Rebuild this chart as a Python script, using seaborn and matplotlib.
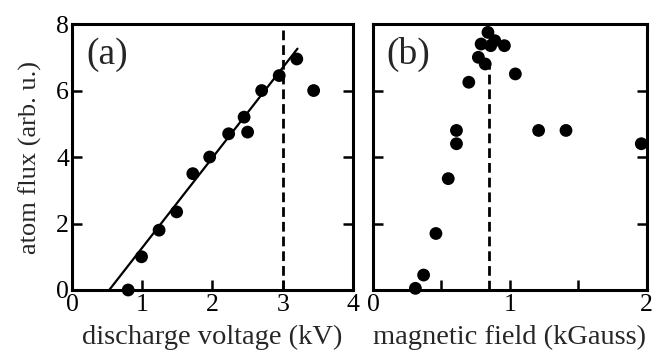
import matplotlib
matplotlib.use("Agg")
import matplotlib.pyplot as plt
import seaborn as sns
import numpy as np
import pandas as pd

# panel (a): atom flux vs discharge voltage
voltage = [0.80, 0.99, 1.24, 1.49, 1.72, 1.96, 2.23, 2.45, 2.50, 2.70, 2.95, 3.20, 3.44]
flux_a = [0.0, 1.0, 1.8, 2.35, 3.5, 4.0, 4.7, 5.2, 4.75, 6.0, 6.45, 6.95, 6.0]
fit_x = [0.53, 3.21]
fit_y = [0.0, 7.26]
dash_a = 3.0

# panel (b): atom flux vs magnetic field
field = [0.31, 0.37, 0.46, 0.55, 0.61, 0.61, 0.70, 0.77, 0.82, 0.79, 0.84,
         0.86, 0.89, 0.96, 1.04, 1.21, 1.41, 1.96]
flux_b = [0.05, 0.45, 1.7, 3.35, 4.4, 4.8, 6.25, 7.0, 6.8, 7.4, 7.75,
          7.35, 7.5, 7.35, 6.5, 4.8, 4.8, 4.4]
dash_b = 0.85
dash_b_top = 6.8

df_a = pd.DataFrame({"x": voltage, "y": flux_a})
df_b = pd.DataFrame({"x": field, "y": flux_b})

sns.set_theme(style="ticks")
plt.rcParams["font.family"] = ["Liberation Serif", "DejaVu Serif"]

fig = plt.figure(figsize=(6.52, 3.56), dpi=100)
ax_a = fig.add_axes([0.1104, 0.1854, 0.431, 0.747])
ax_b = fig.add_axes([0.572, 0.1854, 0.420, 0.747])

for ax in (ax_a, ax_b):
    ax.set_ylim(0, 8)
    ax.set_yticks([0, 2, 4, 6, 8])
    for sp in ax.spines.values():
        sp.set_linewidth(2.2)
        sp.set_color("black")
    ax.tick_params(direction="in", length=7, width=1.8, left=True, right=True,
                   bottom=True, top=False, labelsize=18.5, colors="black")
    ax.tick_params(axis="x", pad=3)
    ax.tick_params(axis="y", pad=2)

# (a)
sns.scatterplot(data=df_a, x="x", y="y", ax=ax_a, color="black", s=85,
                edgecolor="none", zorder=3, clip_on=False)
ax_a.plot(fit_x, fit_y, color="black", lw=1.6)
ax_a.plot([dash_a, dash_a], [0, 8], color="black", lw=2, ls=(0, (3.5, 1.8)))
ax_a.set_xlim(0, 4)
ax_a.set_xticks([0, 1, 2, 3, 4])
ax_a.set_xlabel("discharge voltage (kV)", fontsize=20.5, labelpad=6)
ax_a.set_ylabel("atom flux (arb. u.)", fontsize=19, labelpad=10)
ax_a.text(0.05, 0.95, "(a)", transform=ax_a.transAxes, fontsize=27,
          va="top", ha="left")

# (b)
sns.scatterplot(data=df_b, x="x", y="y", ax=ax_b, color="black", s=85,
                edgecolor="none", zorder=3, clip_on=False)
ax_b.plot([dash_b, dash_b], [0, dash_b_top], color="black", lw=2,
          ls=(0, (3.5, 1.8)))
ax_b.set_xlim(0, 2)
ax_b.set_xticks([0, 0.5, 1, 1.5, 2])
ax_b.set_xticklabels(["0", "", "1", "", "2"])
ax_b.set_yticklabels([])
ax_b.set_xlabel("magnetic field (kGauss)", fontsize=20.5, labelpad=6)
ax_b.set_ylabel("")
ax_b.text(0.05, 0.95, "(b)", transform=ax_b.transAxes, fontsize=27,
          va="top", ha="left")

fig.savefig("out.png", dpi=100)
